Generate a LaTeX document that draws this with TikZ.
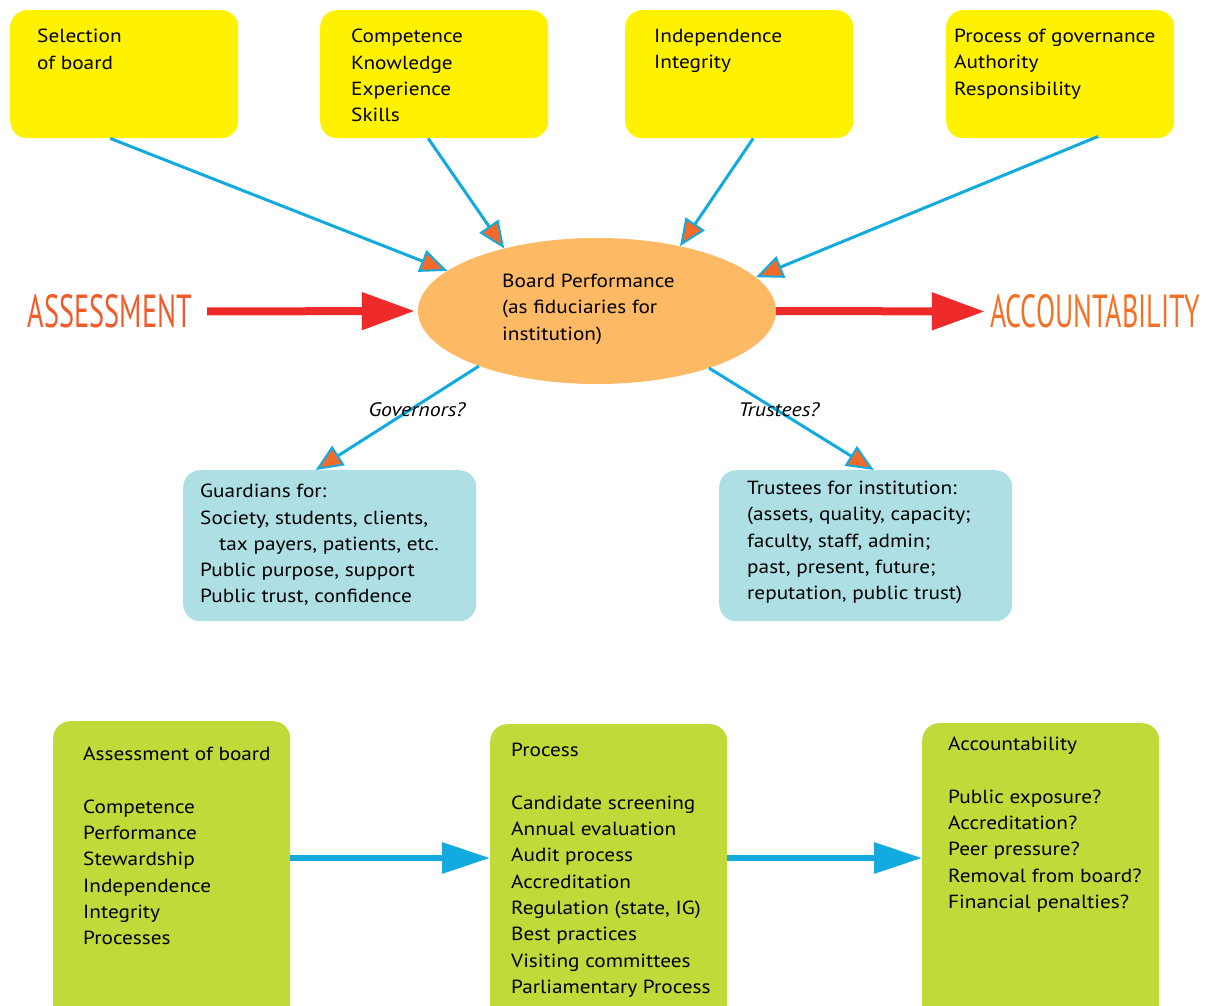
\documentclass[tikz,border=0pt]{standalone}
\usepackage{fontspec}
\usepackage{graphicx}
\setmainfont{PT Sans}[FakeStretch=1.12]
\usetikzlibrary{arrows.meta,shapes.geometric}
\definecolor{yboxC}{HTML}{FFF200}
\definecolor{ellC}{HTML}{FDB964}
\definecolor{cyanC}{HTML}{12AADF}
\definecolor{tipC}{HTML}{F26A2A}
\definecolor{redC}{HTML}{EE2A2A}
\definecolor{orA}{HTML}{F15A29}
\definecolor{orB}{HTML}{F37025}
\definecolor{lblueC}{HTML}{ADDFE5}
\definecolor{greenC}{HTML}{C1D939}
\tikzset{
  ybox/.style={draw=none, fill=yboxC, rounded corners=17pt, minimum width=228pt, minimum height=128pt, anchor=north west, inner sep=0},
  bbox/.style={draw=none, fill=lblueC, rounded corners=17pt, minimum width=293pt, minimum height=151pt, anchor=north west, inner sep=0},
  gbox/.style={draw=none, fill=greenC, rounded corners=17pt, minimum width=237pt, minimum height=320pt, anchor=north west, inner sep=0},
  txt/.style={anchor=north west, inner sep=0, align=left, font={\fontsize{19}{26.3}\selectfont}},
  lbl/.style={inner sep=0, font={\fontsize{19.5}{22}\selectfont\itshape}},
  feed/.style={draw=cyanC, line width=3pt, -{Triangle[length=27pt,width=23pt,fill=tipC,line width=2pt]}},
  redarrow/.style={draw=redC, line width=8pt, -{Triangle[length=53pt,width=36pt]}},
  bluearrow/.style={draw=cyanC, line width=6pt, -{Triangle[length=48pt,width=30pt]}}
}
\begin{document}
\begin{tikzpicture}[x=1pt,y=-1pt]
\useasboundingbox (0,0) rectangle (1208,1006);
\clip (0,0) rectangle (1208,1006);
% yellow boxes
\node[ybox] (y1) at (10,10) {};
\node[ybox] (y2) at (320,10) {};
\node[ybox] (y3) at (625,10) {};
\node[ybox] (y4) at (946,10) {};
\node[txt] (t1) at (37,29) {Selection\\of board};
\node[txt] (t2) at (351,29) {Competence\\Knowledge\\Experience\\Skills};
\node[txt] (t3) at (654,29) {Independence\\Integrity};
\node[txt] (t4) at (954,29) {Process of governance\\Authority\\Responsibility};
% central ellipse
\node[ellipse, fill=ellC, draw=none, minimum width=358pt, minimum height=146pt, inner sep=0] (bp) at (597,311) {};
\node[txt] (bpt) at (502,274) {Board Performance\\(as fiduciaries for\\institution)};
% side labels
\node[inner sep=0, text=orA] (assess) at (110,311.5) {\resizebox{164pt}{33pt}{ASSESSMENT}};
\node[inner sep=0, text=orB] (acc) at (1095,311.5) {\resizebox{210pt}{33pt}{ACCOUNTABILITY}};
\draw[redarrow, shorten <=15pt, shorten >=3pt] (assess.east) -- (bp.west);
\draw[redarrow, shorten >=5pt] (bp.east) -- (acc.west);
% feeding arrows
\draw[feed] ([xshift=-14pt]y1.south) -- (bp.165);
\draw[feed] ([xshift=-6pt]y2.south) -- (bp.146);
\draw[feed] ([xshift=14pt]y3.south) -- (bp.38.6);
\draw[feed] ([xshift=38pt,yshift=2pt]y4.south) -- (bp.12.3);
% blue boxes
\node[bbox] (g) at (183,470) {};
\node[bbox] (tr) at (719,470) {};
\node[txt] (gt) at (200,484) {Guardians for:\\Society, students, clients,\\\hspace*{19pt}tax payers, patients, etc.\\Public purpose, support\\Public trust, confidence};
\node[txt] (trt) at (747,481) {Trustees for institution:\\(assets, quality, capacity;\\faculty, staff, admin;\\past, present, future;\\reputation, public trust)};
\draw[feed] (bp.205.2) -- ([xshift=-14pt]g.north);
\draw[feed] (bp.333.2) -- ([xshift=8pt]tr.north);
\node[lbl] (gl) at (417,410) {Governors?};
\node[lbl] (tl) at (779,410) {Trustees?};
% green boxes
\node[gbox] (a1) at (53,721) {};
\node[gbox] (a2) at (490,724) {};
\node[gbox] (a3) at (922,723) {};
\node[txt] (a1t) at (83,747) {Assessment of board\\[26.3pt]Competence\\Performance\\Stewardship\\Independence\\Integrity\\Processes};
\node[txt] (a2t) at (511,743) {Process\\[26.3pt]Candidate screening\\Annual evaluation\\Audit process\\Accreditation\\Regulation (state, IG)\\Best practices\\Visiting committees\\Parliamentary Process};
\node[txt] (a3t) at (948,737) {Accountability\\[26.3pt]Public exposure?\\Accreditation?\\Peer pressure?\\Removal from board?\\Financial penalties?};
\draw[bluearrow] (a1.east |- 0,858) -- (a2.west |- 0,858);
\draw[bluearrow] (a2.east |- 0,858) -- (a3.west |- 0,858);
\end{tikzpicture}
\end{document}
